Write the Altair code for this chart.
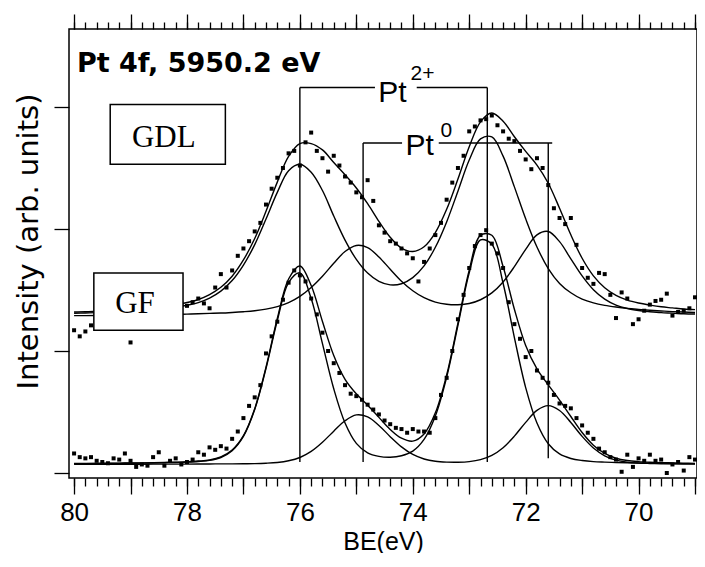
import altair as alt
import pandas as pd

# ---------------- data ----------------
be_fit = [80.0, 79.8, 79.6, 79.4, 79.2, 79.0, 78.8, 78.6, 78.4, 78.2,
          78.0, 77.8, 77.6, 77.4, 77.2, 77.0, 76.8, 76.6, 76.4, 76.2,
          76.0, 75.8, 75.6, 75.4, 75.2, 75.0, 74.8, 74.6, 74.4, 74.2,
          74.0, 73.8, 73.6, 73.4, 73.2, 73.0, 72.8, 72.6, 72.4, 72.2,
          72.0, 71.8, 71.6, 71.4, 71.2, 71.0, 70.8, 70.6, 70.4, 70.2,
          70.0, 69.8, 69.6, 69.4, 69.2, 69.0]

gf_fit_pt2 = [0.077, 0.077, 0.078, 0.078, 0.079, 0.080, 0.081, 0.082, 0.084, 0.086,
              0.089, 0.094, 0.103, 0.127, 0.183, 0.300, 0.520, 0.857, 1.250, 1.560,
              1.640, 1.430, 1.060, 0.690, 0.410, 0.243, 0.165, 0.136, 0.129, 0.141,
              0.179, 0.275, 0.467, 0.784, 1.210, 1.640, 1.910, 1.875, 1.555, 1.110,
              0.700, 0.410, 0.240, 0.156, 0.119, 0.102, 0.093, 0.089, 0.086, 0.084,
              0.082, 0.080, 0.079, 0.078, 0.077, 0.076]
gf_fit_pt0 = [0.071, 0.071, 0.071, 0.072, 0.072, 0.072, 0.072, 0.073, 0.073, 0.073,
              0.073, 0.074, 0.074, 0.075, 0.075, 0.076, 0.077, 0.080, 0.086, 0.100,
              0.127, 0.177, 0.252, 0.343, 0.428, 0.476, 0.460, 0.390, 0.298, 0.214,
              0.152, 0.115, 0.096, 0.089, 0.088, 0.093, 0.109, 0.144, 0.207, 0.302,
              0.415, 0.513, 0.552, 0.512, 0.414, 0.300, 0.205, 0.141, 0.105, 0.088,
              0.081, 0.078, 0.076, 0.075, 0.074, 0.073]
gf_fit_sum = [0.078, 0.078, 0.079, 0.080, 0.081, 0.082, 0.083, 0.085, 0.087, 0.089,
              0.092, 0.098, 0.107, 0.132, 0.188, 0.306, 0.527, 0.867, 1.266, 1.590,
              1.697, 1.537, 1.242, 0.963, 0.768, 0.649, 0.555, 0.456, 0.357, 0.285,
              0.261, 0.320, 0.493, 0.803, 1.228, 1.663, 1.949, 1.949, 1.692, 1.342,
              1.045, 0.853, 0.722, 0.598, 0.463, 0.332, 0.228, 0.160, 0.121, 0.102,
              0.093, 0.088, 0.085, 0.083, 0.081, 0.079]

gdl_fit_pt2 = [1.309, 1.311, 1.314, 1.317, 1.321, 1.326, 1.332, 1.338, 1.349, 1.359,
               1.375, 1.397, 1.434, 1.491, 1.577, 1.704, 1.872, 2.082, 2.300, 2.478,
               2.530, 2.465, 2.315, 2.106, 1.909, 1.751, 1.639, 1.571, 1.542, 1.551,
               1.601, 1.697, 1.850, 2.058, 2.310, 2.565, 2.738, 2.754, 2.597, 2.345,
               2.083, 1.852, 1.676, 1.554, 1.477, 1.425, 1.394, 1.374, 1.360, 1.349,
               1.341, 1.334, 1.328, 1.323, 1.319, 1.316]
gdl_fit_pt0 = [1.290, 1.290, 1.291, 1.292, 1.293, 1.294, 1.295, 1.296, 1.298, 1.300,
               1.302, 1.305, 1.308, 1.311, 1.316, 1.322, 1.330, 1.343, 1.364, 1.397,
               1.448, 1.521, 1.613, 1.719, 1.815, 1.865, 1.848, 1.771, 1.670, 1.572,
               1.494, 1.437, 1.401, 1.383, 1.379, 1.389, 1.420, 1.476, 1.566, 1.691,
               1.833, 1.952, 1.979, 1.896, 1.755, 1.615, 1.502, 1.425, 1.376, 1.348,
               1.332, 1.322, 1.314, 1.310, 1.305, 1.303]
gdl_fit_sum = [1.319, 1.321, 1.325, 1.329, 1.334, 1.340, 1.347, 1.354, 1.367, 1.379,
               1.397, 1.422, 1.462, 1.522, 1.613, 1.746, 1.922, 2.145, 2.384, 2.595,
               2.700, 2.700, 2.648, 2.545, 2.444, 2.336, 2.207, 2.062, 1.932, 1.843,
               1.815, 1.854, 1.971, 2.161, 2.409, 2.674, 2.878, 2.950, 2.883, 2.756,
               2.636, 2.524, 2.375, 2.170, 1.952, 1.760, 1.616, 1.519, 1.456, 1.417,
               1.393, 1.376, 1.362, 1.353, 1.344, 1.339]

be_data = [80.0, 79.9, 79.8, 79.7, 79.6, 79.5, 79.4, 79.3, 79.2, 79.1,
           79.0, 78.9, 78.8, 78.7, 78.6, 78.5, 78.4, 78.3, 78.2, 78.1,
           78.0, 77.9, 77.8, 77.7, 77.6, 77.5, 77.4, 77.3, 77.2, 77.1,
           77.0, 76.9, 76.8, 76.7, 76.6, 76.5, 76.4, 76.3, 76.2, 76.1,
           76.0, 75.9, 75.8, 75.7, 75.6, 75.5, 75.4, 75.3, 75.2, 75.1,
           75.0, 74.9, 74.8, 74.7, 74.6, 74.5, 74.4, 74.3, 74.2, 74.1,
           74.0, 73.9, 73.8, 73.7, 73.6, 73.5, 73.4, 73.3, 73.2, 73.1,
           73.0, 72.9, 72.8, 72.7, 72.6, 72.5, 72.4, 72.3, 72.2, 72.1,
           72.0, 71.9, 71.8, 71.7, 71.6, 71.5, 71.4, 71.3, 71.2, 71.1,
           71.0, 70.9, 70.8, 70.7, 70.6, 70.5, 70.4, 70.3, 70.2, 70.1,
           70.0, 69.9, 69.8, 69.7, 69.6, 69.5, 69.4, 69.3, 69.2, 69.1,
           69.0]

gf_data = [0.16, 0.13, 0.12, 0.13, 0.10, 0.09, 0.08, 0.12, 0.11, 0.16,
           0.10, 0.05, 0.07, 0.06, 0.13, 0.17, 0.06, 0.10, 0.12, 0.07,
           0.09, 0.11, 0.17, 0.15, 0.21, 0.19, 0.22, 0.20, 0.28, 0.34,
           0.45, 0.55, 0.62, 0.72, 0.98, 1.12, 1.24, 1.42, 1.56, 1.66,
           1.62, 1.57, 1.43, 1.30, 1.15, 1.00, 0.90, 0.82, 0.72, 0.65,
           0.63, 0.60, 0.56, 0.52, 0.48, 0.43, 0.40, 0.37, 0.36, 0.33,
           0.36, 0.34, 0.34, 0.33, 0.45, 0.64, 0.78, 1.00, 1.26, 1.46,
           1.68, 1.86, 1.95, 1.99, 1.88, 1.80, 1.68, 1.40, 1.22, 1.10,
           0.95, 1.00, 0.84, 0.78, 0.74, 0.64, 0.57, 0.55, 0.53, 0.45,
           0.39, 0.33, 0.28, 0.20, 0.17, 0.13, 0.11, 0.01, 0.15, 0.05,
           0.12, 0.10, 0.15, 0.10, 0.11, 0.00, 0.07, 0.09, 0.02, 0.13,
           0.11]

gdl_data = [1.17, 1.12, 1.16, 1.21, 1.27, 1.30, 1.26, 1.31, 1.29, 1.32,
            1.07, 1.33, 1.30, 1.34, 1.36, 1.31, 1.38, 1.35, 1.37, 1.39,
            1.37, 1.40, 1.43, 1.39, 1.35, 1.52, 1.63, 1.52, 1.66, 1.78,
            1.84, 1.90, 1.98, 2.05, 2.20, 2.33, 2.42, 2.50, 2.62, 2.64,
            2.52, 2.71, 2.79, 2.64, 2.58, 2.47, 2.60, 2.52, 2.43, 2.38,
            2.30, 2.26, 2.40, 2.23, 2.03, 1.97, 1.90, 1.88, 1.84, 1.80,
            1.76, 1.57, 1.73, 1.84, 1.95, 2.05, 2.24, 2.38, 2.50, 2.60,
            2.80, 2.84, 2.89, 2.90, 2.93, 2.85, 2.80, 2.74, 2.72, 2.64,
            2.57, 2.49, 2.58, 2.50, 2.36, 2.17, 2.09, 2.04, 2.09, 1.87,
            1.68, 1.60, 1.55, 1.64, 1.63, 1.46, 1.27, 1.48, 1.43, 1.22,
            1.26, 1.33, 1.38, 1.41, 1.42, 1.47, 1.29, 1.32, 1.33, 1.35,
            1.44]

# peak-position markers and brackets
peak_be = [76.0, 74.88, 72.68, 71.6]
peak_lo = [0.09, 0.09, 0.09, 0.12]
peak_hi = [3.16, 2.705, 3.16, 2.705]
bracket_from = [76.0, 73.93, 74.88, 73.54]
bracket_to = [74.67, 72.68, 74.19, 71.53]
bracket_at = [3.16, 3.16, 2.705, 2.705]

# labels
species_text = ["Pt", "2+", "Pt", "0"]
species_be = [74.61, 74.04, 74.13, 73.51]
species_val = [3.041, 3.22, 2.607, 2.754]
species_size = [30, 21, 30, 21]

sample_text = ["GDL", "GF"]
sample_be = [78.41, 78.92]
sample_val = [2.672, 1.311]
box_be1 = [79.36, 79.65]
box_be2 = [77.32, 78.07]
box_v1 = [2.53, 1.17]
box_v2 = [3.02, 1.64]

title_text = "Pt 4f, 5950.2 eV"
x_major_ticks = [69, 70, 71, 72, 73, 74, 75, 76, 77, 78, 79, 80]
x_minor_ticks = [round(69 + 0.2 * i, 1) for i in range(56)]
y_ticks = [0, 1, 2, 3]

# ---------------- tables ----------------
fit_rows = []
for name, vals in [("gf_pt2", gf_fit_pt2), ("gf_pt0", gf_fit_pt0), ("gf_sum", gf_fit_sum),
                   ("gdl_pt2", gdl_fit_pt2), ("gdl_pt0", gdl_fit_pt0), ("gdl_sum", gdl_fit_sum)]:
    for b, v in zip(be_fit, vals):
        fit_rows.append({"be": b, "v": v, "curve": name})
fit_df = pd.DataFrame(fit_rows)

pts_rows = []
for name, vals in [("GF", gf_data), ("GDL", gdl_data)]:
    for b, v in zip(be_data, vals):
        pts_rows.append({"be": b, "v": v, "s": name})
pts_df = pd.DataFrame(pts_rows)

peak_df = pd.DataFrame({"be": peak_be, "lo": peak_lo, "hi": peak_hi})
br_df = pd.DataFrame({"a": bracket_from, "b": bracket_to, "y": bracket_at})
sp_df = pd.DataFrame({"t": species_text, "be": species_be, "v": species_val, "fs": species_size})
box_df = pd.DataFrame({"a": box_be1, "b": box_be2, "y1": box_v1, "y2": box_v2})
smp_df = pd.DataFrame({"t": sample_text, "be": sample_be, "v": sample_val})
ttl_df = pd.DataFrame({"t": [title_text], "be": [79.95], "v": [3.287]})

# 628 px plot width for 11.125 eV (about 56.45 px per eV)
xs = alt.Scale(domain=[68.965, 80.09], reverse=True, nice=False, zero=False)
ys = alt.Scale(domain=[-0.041, 3.639], nice=False, zero=False)

common = dict(domain=False, grid=False, tickColor="black", tickWidth=1.3)

ax_bottom = alt.Axis(orient="bottom", values=x_major_ticks, tickSize=16,
                     labelExpr="datum.value % 2 == 0 ? datum.label : ''",
                     labelFont="Liberation Sans", labelFontSize=26, labelColor="black",
                     labelPadding=5, labelFlush=False, labelOverlap=False,
                     title="BE(eV)", titleFont="Liberation Sans", titleFontSize=25,
                     titleFontWeight="normal", titleColor="black",
                     titleX=314, titleY=71, titleBaseline="alphabetic", **common)
ax_bottom_minor = alt.Axis(orient="bottom", values=x_minor_ticks, tickSize=8,
                           labels=False, title=None, **common)
ax_top = alt.Axis(orient="top", values=x_major_ticks, tickSize=15,
                  labels=False, title=None, **common)
ax_top_minor = alt.Axis(orient="top", values=x_minor_ticks, tickSize=7,
                        labels=False, title=None, **common)
ay_left = alt.Axis(orient="left", values=y_ticks, tickSize=15, labels=False,
                   title="Intensity (arb. units)", titleFont="DejaVu Sans",
                   titleFontSize=29, titleFontWeight="normal", titleColor="black",
                   titleAngle=270, titleX=-32, titleY=212, titleBaseline="alphabetic",
                   titleAlign="center", **common)
ay_right = alt.Axis(orient="right", values=y_ticks, tickSize=6, labels=False,
                    title=None, **common)


def axis_layer(xa, ya):
    return alt.Chart(fit_df).mark_point(opacity=0).encode(
        x=alt.X("be:Q", scale=xs, axis=xa),
        y=alt.Y("v:Q", scale=ys, axis=ya),
    )


l_ax1 = axis_layer(ax_bottom, ay_left)
l_ax2 = axis_layer(ax_bottom_minor, ay_right)
l_ax3 = axis_layer(ax_top, None)
l_ax4 = axis_layer(ax_top_minor, None)

curves = alt.Chart(fit_df).mark_line(color="black", strokeWidth=1.4,
                                     interpolate="catmull-rom").encode(
    x=alt.X("be:Q", scale=xs, axis=None),
    y=alt.Y("v:Q", scale=ys, axis=None),
    detail="curve:N",
)

points = alt.Chart(pts_df).mark_square(size=16, color="black", opacity=1,
                                       filled=True).encode(
    x=alt.X("be:Q", scale=xs, axis=None),
    y=alt.Y("v:Q", scale=ys, axis=None),
)

vlines = alt.Chart(peak_df).mark_rule(color="black", strokeWidth=1.4).encode(
    x=alt.X("be:Q", scale=xs, axis=None),
    y=alt.Y("lo:Q", scale=ys, axis=None),
    y2="hi:Q",
)

hlines = alt.Chart(br_df).mark_rule(color="black", strokeWidth=1.4).encode(
    x=alt.X("a:Q", scale=xs, axis=None),
    x2="b:Q",
    y=alt.Y("y:Q", scale=ys, axis=None),
)

species = alt.Chart(sp_df).mark_text(font="Liberation Sans", align="left",
                                     baseline="alphabetic", color="black").encode(
    x=alt.X("be:Q", scale=xs, axis=None),
    y=alt.Y("v:Q", scale=ys, axis=None),
    text="t:N",
    size=alt.Size("fs:Q", scale=None, legend=None),
)

boxes = alt.Chart(box_df).mark_rect(fill="white", stroke="black",
                                    strokeWidth=1.5).encode(
    x=alt.X("a:Q", scale=xs, axis=None),
    x2="b:Q",
    y=alt.Y("y1:Q", scale=ys, axis=None),
    y2="y2:Q",
)

samples = alt.Chart(smp_df).mark_text(font="Liberation Serif", fontSize=31,
                                      align="center", baseline="alphabetic",
                                      color="black").encode(
    x=alt.X("be:Q", scale=xs, axis=None),
    y=alt.Y("v:Q", scale=ys, axis=None),
    text="t:N",
)

title = alt.Chart(ttl_df).mark_text(font="DejaVu Sans", fontWeight="bold", fontSize=27,
                                    align="left", baseline="alphabetic",
                                    color="black").encode(
    x=alt.X("be:Q", scale=xs, axis=None),
    y=alt.Y("v:Q", scale=ys, axis=None),
    text="t:N",
)

chart = alt.layer(
    l_ax1, l_ax2, l_ax3, l_ax4,
    curves, points, vlines, hlines, boxes, samples, species, title,
).resolve_axis(x="independent", y="independent").properties(
    width=628, height=449,
    padding={"left": 61, "top": 21, "right": 0, "bottom": 75},
    autosize=alt.AutoSizeParams(type="none"),
    background="white",
).configure_view(stroke="black", strokeWidth=1.5)

chart.save("out.html", embed_options={"renderer": "svg", "actions": False})
